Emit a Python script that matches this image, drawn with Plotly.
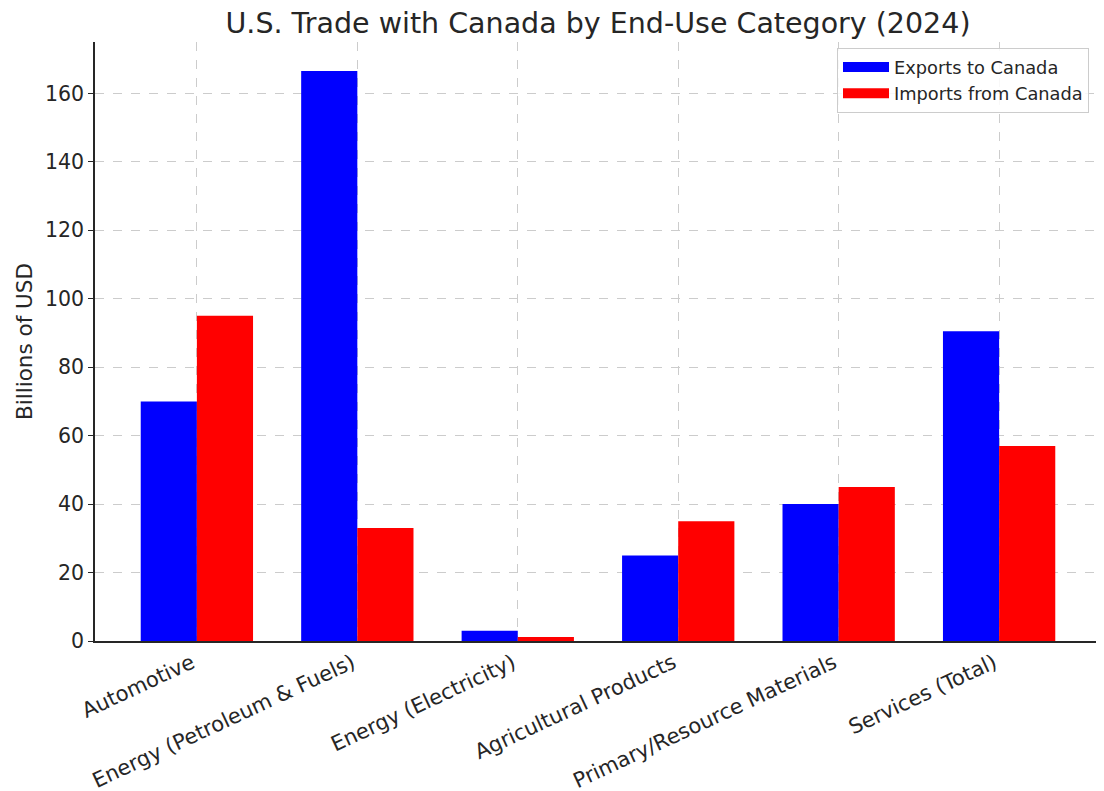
import plotly.graph_objects as go

categories = ["Automotive", "Energy (Petroleum & Fuels)", "Energy (Electricity)",
              "Agricultural Products", "Primary/Resource Materials", "Services (Total)"]
exports = [70, 166.5, 3, 25, 40, 90.5]
imports = [95, 33, 1.2, 35, 45, 57]
y_ticks = [0, 20, 40, 60, 80, 100, 120, 140, 160]
series_names = ["Exports to Canada", "Imports from Canada"]
series_colors = ["#0000ff", "#ff0000"]

FONT = "DejaVu Sans"
TXT = "#262626"

fig = go.Figure()
for name, vals, col in zip(series_names, [exports, imports], series_colors):
    fig.add_trace(go.Bar(x=categories, y=vals, name=name, showlegend=False,
                         marker=dict(color=col, line=dict(width=0))))
# legend-only entries drawn as wide rectangular swatches
for name, col in zip(series_names, series_colors):
    fig.add_trace(go.Scatter(x=[None], y=[None], mode="lines", name=name,
                             line=dict(color=col, width=13), hoverinfo="skip"))

fig.update_layout(
    width=1104, height=791,
    paper_bgcolor="white", plot_bgcolor="white",
    barmode="group", bargap=0.3, bargroupgap=0,
    margin=dict(l=87, r=11, t=34, b=158, autoexpand=False),
    font=dict(family=FONT, color=TXT, size=20),
    title=dict(text="U.S. Trade with Canada by End-Use Category (2024)",
               x=(87 + 1093) / 2 / 1104, xanchor="center", y=1 - 15 / 791, yanchor="middle",
               font=dict(size=28.5, color=TXT, family=FONT)),
    legend=dict(x=(837 - 8 - 87) / (1093 - 87), xanchor="left",
                y=1 - (48 - 42) / 599, yanchor="top",
                bgcolor="rgba(255,255,255,0.85)", bordercolor="#cccccc", borderwidth=1,
                font=dict(size=17.8, color=TXT), itemwidth=46, tracegroupgap=0),
    showlegend=True,
)
fig.update_xaxes(
    type="category", range=[-0.635, 5.635],
    showgrid=True, gridcolor="#cccccc", griddash="dash", gridwidth=1,
    showline=True, linecolor="#262626", linewidth=1.5,
    ticks="", tickangle=-25, tickfont=dict(size=21, color=TXT),
    ticklabelshift=-5,
    zeroline=False,
)
fig.update_yaxes(
    range=[0, 175], tickvals=y_ticks,
    showgrid=True, gridcolor="#cccccc", griddash="dash", gridwidth=1,
    showline=True, linecolor="#262626", linewidth=1.5,
    ticks="outside", ticklen=5, tickcolor="#262626",
    tickfont=dict(size=20.5, color=TXT),
    title=dict(text="Billions of USD", font=dict(size=21.5, color=TXT), standoff=6),
    zeroline=False,
)
fig.write_html("out.html")
